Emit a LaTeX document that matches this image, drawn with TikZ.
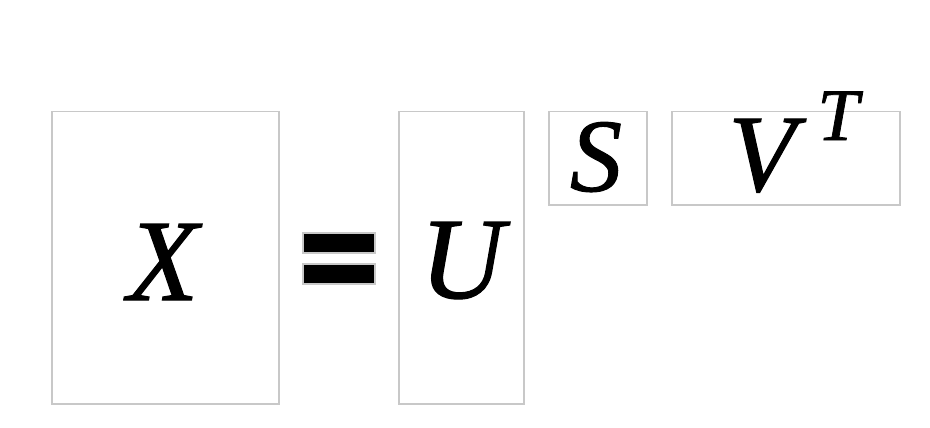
\documentclass[tikz,border=0pt]{standalone}
\usepackage{fontspec}
\setmainfont{Liberation Serif}[ItalicFeatures={FakeBold=1}]
\definecolor{boxgray}{RGB}{200,200,200}
\begin{document}
\begin{tikzpicture}[x=1pt,y=-1pt,
  mbox/.style={draw=boxgray,line width=1.5pt,inner sep=0pt,anchor=north west},
  bar/.style={draw=boxgray,fill=black,line width=1.5pt,inner sep=0pt,anchor=north west,minimum width=72pt,minimum height=20pt},
  letter/.style={inner sep=0pt,anchor=base,font=\itshape\fontsize{#1}{#1}\selectfont}]
\useasboundingbox[fill=white] (0,0) rectangle (930,428);
\node[mbox,minimum width=227pt,minimum height=292pt] (bx) at (51,111) {};
\node[mbox,minimum width=125pt,minimum height=292pt] (bu) at (398,111) {};
\node[mbox,minimum width=98pt,minimum height=93pt] (bs) at (548,111) {};
\node[mbox,minimum width=228pt,minimum height=93pt] (bv) at (671,111) {};
\node[bar] (eq1) at (302,232) {};
\node[bar] (eq2) at (302,263) {};
\node[letter=116] (lx) at (163,300) {X};
\node[letter=116] (lu) at (462,298) {U};
\node[letter=104] (ls) at (596,191) {S};
\node[letter=110] (lv) at (762,191) {V};
\node[letter=74] (lt) at (838,140) {T};
\end{tikzpicture}
\end{document}
